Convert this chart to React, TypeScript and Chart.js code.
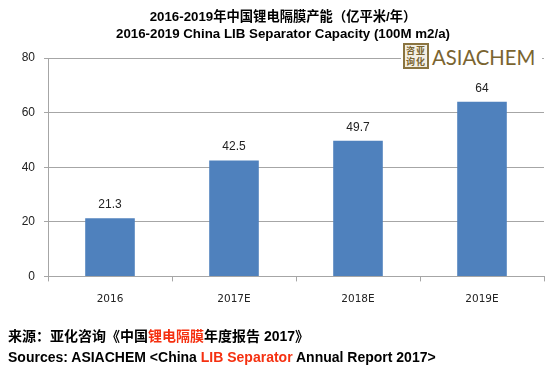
import React, { useEffect, useRef } from "react";
import { Chart, registerables } from "chart.js";

Chart.register(...registerables);

const categories = ["2016", "2017E", "2018E", "2019E"];
const capacity = [21.3, 42.5, 49.7, 64];
const valueLabels = ["21.3", "42.5", "49.7", "64"];
const titleLines = ["2016-2019年中国锂电隔膜产能（亿平米/年）", "2016-2019 China LIB Separator Capacity (100M m2/a)"];

const SANS = '"Liberation Sans", Arial, "Noto Sans CJK SC", sans-serif';
const AXIS = "#a6a6a6";

const labelPlugin = {
  id: "valueLabels",
  afterDatasetsDraw(chart: any) {
    const { ctx } = chart;
    ctx.save();
    ctx.font = `12px ${SANS}`;
    ctx.fillStyle = "#222";
    ctx.textAlign = "center";
    ctx.textBaseline = "alphabetic";
    chart.getDatasetMeta(0).data.forEach((bar: any, i: number) => {
      ctx.fillText(valueLabels[i], bar.x, bar.y - 10);
    });
    ctx.restore();
  },
};

export default function App() {
  const ref = useRef<HTMLCanvasElement>(null);
  useEffect(() => {
    document.body.style.margin = "0";
    document.body.style.background = "#fff";
    const chart = new Chart(ref.current!, {
      type: "bar",
      data: {
        labels: categories,
        datasets: [{ data: capacity, backgroundColor: "#4f81bd", categoryPercentage: 0.4, barPercentage: 1 }],
      },
      options: {
        responsive: false,
        animation: false,
        layout: { padding: { left: 22, right: 10, top: 9, bottom: 59 } },
        plugins: {
          legend: { display: false },
          tooltip: { enabled: false },
          title: {
            display: true,
            text: titleLines,
            color: "#000",
            font: { family: SANS, size: 13.3, weight: "bold", lineHeight: 1.28 },
            padding: { top: 0, bottom: 15 },
          },
        },
        scales: {
          x: {
            grid: { drawOnChartArea: false, color: AXIS, tickLength: 5 },
            border: { color: AXIS },
            ticks: { color: "#222", font: { family: '"DejaVu Sans", sans-serif', size: 10.5 }, padding: 12 },
          },
          y: {
            min: 0,
            max: 80,
            afterFit: (s: any) => { s.width = 26; },
            grid: { color: AXIS, tickLength: 4 },
            border: { color: AXIS },
            ticks: { stepSize: 20, color: "#222", font: { family: SANS, size: 12 }, padding: 9 },
          },
        },
      },
      plugins: [labelPlugin],
    } as any);
    return () => chart.destroy();
  }, []);

  return (
    <div style={{ position: "relative", width: 554, height: 377, overflow: "hidden", background: "#fff" }}>
      <canvas ref={ref} width={554} height={377} style={{ display: "block" }} />
      <div style={{ position: "absolute", left: 401, top: 43, width: 141, height: 27, background: "#fff" }} />
      <div style={{ position: "absolute", left: 403, top: 43, width: 22, height: 22, border: "2px solid #8a7440", background: "#f3efe3", color: "#7a6430", fontFamily: '"Noto Sans CJK SC"', fontSize: 9, lineHeight: "11px", fontWeight: 700, textAlign: "center", letterSpacing: 1, boxSizing: "content-box" }}>
        <div>咨亚</div><div>询化</div>
      </div>
      <div style={{ position: "absolute", left: 432, top: 45, color: "#7a6430", fontFamily: 'Lato, sans-serif', fontSize: 20.3, lineHeight: "25px", letterSpacing: 0 }}>
        ASIACHEM
      </div>
      <div style={{ position: "absolute", left: 8, top: 328, fontFamily: SANS, fontSize: 14, lineHeight: "16px", fontWeight: 700, color: "#000", whiteSpace: "nowrap" }}>
        来源：亚化咨询《中国<span style={{ color: "#f53010" }}>锂电隔膜</span>年度报告 2017》
      </div>
      <div style={{ position: "absolute", left: 8, top: 349, fontFamily: SANS, fontSize: 14, lineHeight: "16px", fontWeight: 700, color: "#000", whiteSpace: "nowrap" }}>
        Sources: ASIACHEM &lt;China <span style={{ color: "#f53010" }}>LIB Separator</span> Annual Report 2017&gt;
      </div>
    </div>
  );
}
